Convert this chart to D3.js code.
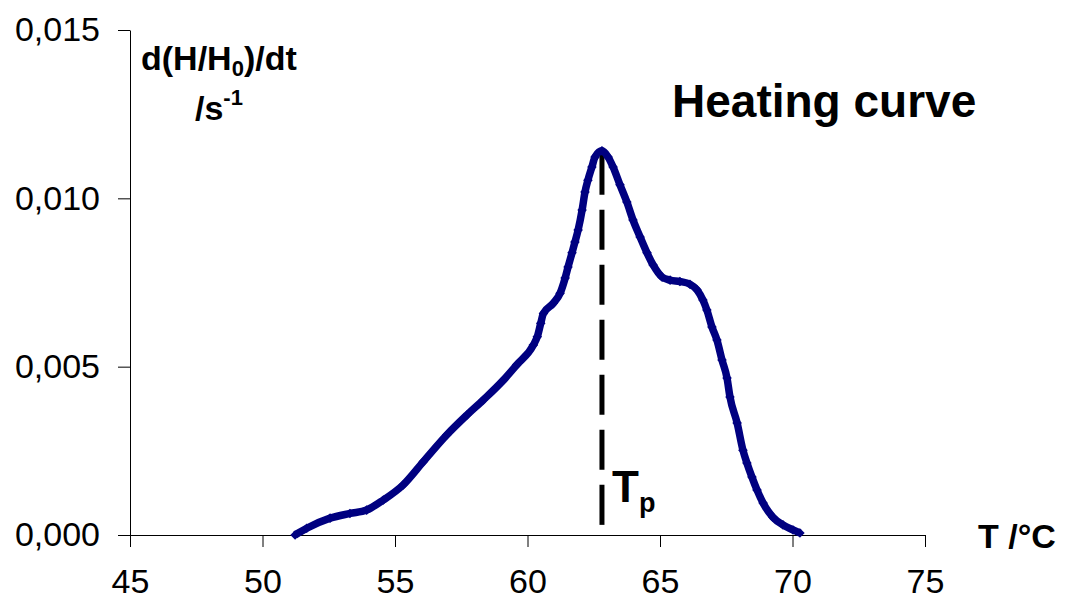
<!DOCTYPE html>
<html>
<head>
<meta charset="utf-8">
<script src="https://cdn.jsdelivr.net/npm/d3@7"></script>
<style>
  body { margin: 0; background: #fff; }
  svg text { font-family: Arial, "Liberation Sans", sans-serif; fill: #000; }
  .tick text { font-size: 34px; }
  .domain, .tick line { stroke: #000; stroke-width: 1; }
</style>
</head>
<body>
<svg id="chart" width="1066" height="601"></svg>
<script>
// Heating curve
const temps = [51.23, 51.67, 52.55, 53.30, 53.93, 54.56, 55.31, 56.07, 56.95, 57.71,
  58.33, 59.09, 59.59, 60.22, 60.37, 60.50, 60.60, 60.97, 61.23, 61.42,
  61.53, 61.68, 61.79, 61.91, 62.06, 62.17, 62.28, 62.43, 62.55, 62.81,
  63.04, 63.23, 63.49, 63.75, 63.98, 64.25, 64.51, 64.74, 65.08, 65.38,
  65.75, 66.13, 66.40, 66.62, 66.77, 66.96, 67.15, 67.34, 67.53, 67.64,
  67.91, 68.13, 68.28, 68.47, 68.66, 68.89, 69.26, 69.64, 70.02, 70.28];
const rates = [0.00000, 0.00020, 0.00050, 0.00064, 0.00074, 0.00104, 0.00149, 0.00218, 0.00297, 0.00356,
  0.00401, 0.00460, 0.00505, 0.00564, 0.00589, 0.00629, 0.00658, 0.00688, 0.00718, 0.00763,
  0.00796, 0.00838, 0.00870, 0.00906, 0.00965, 0.01019, 0.01054, 0.01093, 0.01123, 0.01141,
  0.01123, 0.01093, 0.01040, 0.00989, 0.00936, 0.00885, 0.00838, 0.00802, 0.00766, 0.00757,
  0.00753, 0.00745, 0.00728, 0.00698, 0.00668, 0.00618, 0.00579, 0.00520, 0.00466, 0.00410,
  0.00333, 0.00252, 0.00214, 0.00172, 0.00134, 0.00095, 0.00053, 0.00030, 0.00015, 0.00006];

const xTicks = [45, 50, 55, 60, 65, 70, 75];
const yTicks = [0, 0.005, 0.010, 0.015];
const peakT = 62.81;
const peakRate = 0.01141;

const svg = d3.select('#chart');
const margin = { left: 130, right: 925, top: 30, bottom: 535 };

const x = d3.scaleLinear().domain([45, 75]).range([margin.left, margin.right]);
const y = d3.scaleLinear().domain([0, 0.015]).range([margin.bottom, margin.top]);

const comma = d => d3.format('.3f')(d).replace('.', ',');

// axes
svg.append('g')
  .attr('transform', `translate(0, ${margin.bottom})`)
  .call(d3.axisBottom(x).tickValues(xTicks).tickSize(12).tickSizeOuter(0).tickPadding(22));

svg.append('g')
  .attr('transform', `translate(${margin.left}, 0)`)
  .call(d3.axisLeft(y).tickValues(yTicks).tickSize(12).tickSizeOuter(0).tickPadding(18).tickFormat(comma));

const data = temps.map((t, i) => ({ t, v: rates[i] }));

// Tp marker
svg.append('line')
  .attr('x1', x(peakT)).attr('x2', x(peakT))
  .attr('y1', y(peakRate) + 4).attr('y2', y(0) - 8)
  .attr('stroke', '#000')
  .attr('stroke-width', 5)
  .attr('stroke-dasharray', '40,15');

// series: thick band + diamond markers
svg.append('path')
  .datum(data)
  .attr('fill', 'none')
  .attr('stroke', '#000080')
  .attr('stroke-width', 7.5)
  .attr('stroke-linejoin', 'round')
  .attr('d', d3.line().curve(d3.curveMonotoneX).x(d => x(d.t)).y(d => y(d.v)));

svg.append('g')
  .selectAll('path')
  .data(data)
  .join('path')
  .attr('transform', d => `translate(${x(d.t)}, ${y(d.v)}) rotate(45)`)
  .attr('d', d3.symbol(d3.symbolSquare, 46))
  .attr('fill', '#000080');

// labels
const yl = svg.append('text').attr('font-weight', 'bold').attr('font-size', 34);
yl.append('tspan').attr('x', 141).attr('y', 70).text('d(H/H');
yl.append('tspan').attr('font-size', 22).attr('dy', 6).text('0');
yl.append('tspan').attr('dy', -6).text(')/dt');

const yl2 = svg.append('text').attr('font-weight', 'bold').attr('font-size', 34);
yl2.append('tspan').attr('x', 195).attr('y', 120).text('/s');
yl2.append('tspan').attr('font-size', 22).attr('dy', -15).text('-1');

svg.append('text')
  .attr('x', 672).attr('y', 117)
  .attr('font-weight', 'bold').attr('font-size', 46)
  .text('Heating curve');

svg.append('text')
  .attr('x', 978).attr('y', 548)
  .attr('font-weight', 'bold').attr('font-size', 34)
  .text('T /°C');

const tp = svg.append('text').attr('font-weight', 'bold');
tp.append('tspan').attr('x', 612).attr('y', 502).attr('font-size', 44).text('T');
tp.append('tspan').attr('font-size', 27).attr('dy', 10).text('p');
</script>
</body>
</html>
